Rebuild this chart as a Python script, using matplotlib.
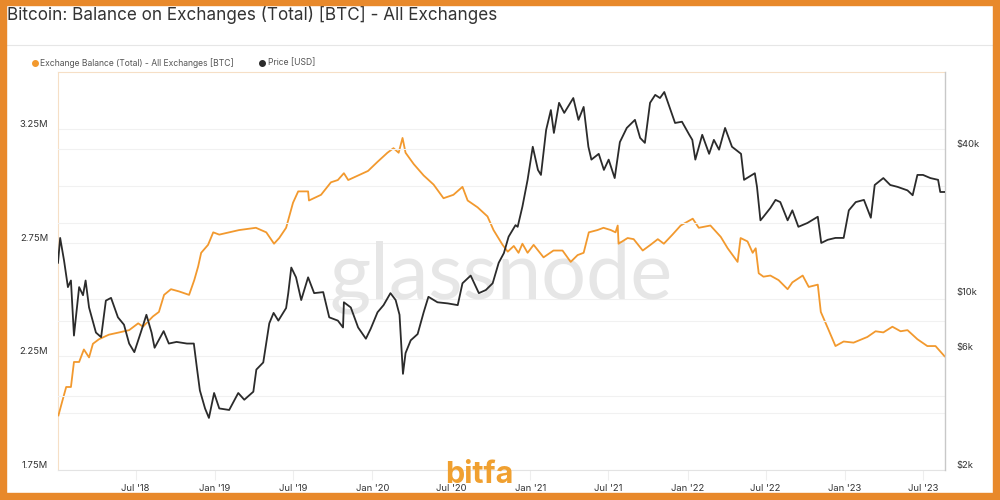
import pandas as pd
import matplotlib
matplotlib.use("Agg")
import matplotlib.pyplot as plt
from matplotlib.patches import Rectangle
from matplotlib.ticker import FixedLocator, NullLocator

plt.rcParams['font.family'] = ['Inter', 'DejaVu Sans']

TITLE = "Bitcoin: Balance on Exchanges (Total) [BTC] - All Exchanges"
BAL_LABEL = "Exchange Balance (Total) - All Exchanges [BTC]"
PRICE_LABEL = "Price [USD]"

# exchange balance, millions of BTC
bal_dates = [
    "2018-01-03", "2018-01-13", "2018-01-21", "2018-02-01", "2018-02-08", "2018-02-20",
    "2018-03-03", "2018-03-15", "2018-03-24", "2018-04-07", "2018-04-30", "2018-05-24",
    "2018-06-16", "2018-07-07", "2018-07-18", "2018-08-10", "2018-08-24", "2018-09-05",
    "2018-09-21", "2018-10-10", "2018-11-02", "2018-11-14", "2018-11-23", "2018-11-30",
    "2018-12-16", "2018-12-28", "2019-01-11", "2019-02-03", "2019-02-26", "2019-04-06",
    "2019-04-30", "2019-05-18", "2019-05-30", "2019-06-15", "2019-07-01", "2019-07-13",
    "2019-07-24", "2019-08-05", "2019-08-07", "2019-09-04", "2019-09-27", "2019-10-13",
    "2019-10-27", "2019-11-06", "2019-11-29", "2019-12-22", "2020-01-13", "2020-02-05",
    "2020-02-19", "2020-03-02", "2020-03-11", "2020-03-18", "2020-04-06", "2020-04-29",
    "2020-05-22", "2020-06-14", "2020-07-07", "2020-07-28", "2020-08-09", "2020-09-01",
    "2020-09-24", "2020-10-08", "2020-10-29", "2020-11-10", "2020-11-24", "2020-12-05",
    "2020-12-14", "2020-12-26", "2021-01-09", "2021-02-01", "2021-02-24", "2021-03-17",
    "2021-04-05", "2021-04-21", "2021-05-05", "2021-05-17", "2021-06-06", "2021-06-20",
    "2021-07-07", "2021-07-18", "2021-07-23", "2021-07-25", "2021-08-15", "2021-08-29",
    "2021-09-19", "2021-10-07", "2021-10-24", "2021-11-07", "2021-11-27", "2021-12-16",
    "2022-01-13", "2022-01-27", "2022-02-23", "2022-03-19", "2022-04-04", "2022-04-27",
    "2022-05-04", "2022-05-20", "2022-06-01", "2022-06-08", "2022-06-15", "2022-06-26",
    "2022-07-12", "2022-07-31", "2022-08-21", "2022-09-01", "2022-09-25", "2022-10-09",
    "2022-10-30", "2022-11-06", "2022-11-22", "2022-12-10", "2022-12-29", "2023-01-21",
    "2023-02-22", "2023-03-13", "2023-03-31", "2023-04-21", "2023-05-10", "2023-05-26",
    "2023-06-18", "2023-07-11", "2023-07-30", "2023-08-20",
]
bal_values = [
    1.99, 2.06, 2.115, 2.115, 2.225, 2.225,
    2.28, 2.245, 2.305, 2.325, 2.345, 2.355,
    2.365, 2.395, 2.38, 2.425, 2.445, 2.52,
    2.545, 2.535, 2.52, 2.585, 2.645, 2.705,
    2.74, 2.795, 2.785, 2.795, 2.805, 2.815,
    2.795, 2.745, 2.77, 2.815, 2.925, 2.975,
    2.975, 2.975, 2.935, 2.96, 3.015, 3.025,
    3.055, 3.025, 3.045, 3.065, 3.105, 3.145,
    3.165, 3.145, 3.21, 3.145, 3.095, 3.045,
    3.005, 2.945, 2.96, 2.995, 2.935, 2.905,
    2.865, 2.805, 2.74, 2.71, 2.735, 2.705,
    2.745, 2.705, 2.74, 2.685, 2.715, 2.715,
    2.665, 2.695, 2.705, 2.795, 2.805, 2.815,
    2.805, 2.795, 2.825, 2.745, 2.77, 2.765,
    2.715, 2.74, 2.765, 2.745, 2.785, 2.825,
    2.855, 2.815, 2.825, 2.775, 2.725, 2.665,
    2.77, 2.755, 2.705, 2.725, 2.615, 2.60,
    2.605, 2.585, 2.545, 2.575, 2.605, 2.555,
    2.565, 2.445, 2.375, 2.295, 2.315, 2.31,
    2.335, 2.36, 2.355, 2.38, 2.36, 2.365,
    2.325, 2.295, 2.295, 2.25,
]

# BTC price, thousands of USD
price_dates = [
    "2018-01-02", "2018-01-07", "2018-01-16", "2018-01-25", "2018-02-01", "2018-02-08",
    "2018-02-20", "2018-03-01", "2018-03-07", "2018-03-15", "2018-03-31", "2018-04-12",
    "2018-04-23", "2018-05-05", "2018-05-21", "2018-06-04", "2018-06-16", "2018-06-28",
    "2018-07-14", "2018-07-26", "2018-08-07", "2018-08-14", "2018-09-04", "2018-09-16",
    "2018-10-04", "2018-10-28", "2018-11-13", "2018-11-20", "2018-11-27", "2018-12-09",
    "2018-12-18", "2018-12-30", "2019-01-11", "2019-02-03", "2019-02-24", "2019-03-10",
    "2019-03-31", "2019-04-07", "2019-04-23", "2019-05-07", "2019-05-17", "2019-05-28",
    "2019-06-15", "2019-06-20", "2019-06-27", "2019-07-08", "2019-07-20", "2019-08-05",
    "2019-08-19", "2019-09-09", "2019-09-23", "2019-10-13", "2019-10-25", "2019-10-27",
    "2019-11-12", "2019-11-29", "2019-12-17", "2019-12-28", "2020-01-13", "2020-01-27",
    "2020-02-12", "2020-02-24", "2020-03-04", "2020-03-12", "2020-03-18", "2020-03-30",
    "2020-04-15", "2020-04-29", "2020-05-10", "2020-05-31", "2020-06-24", "2020-07-17",
    "2020-07-28", "2020-08-16", "2020-09-04", "2020-09-20", "2020-10-06", "2020-10-20",
    "2020-11-01", "2020-11-12", "2020-11-28", "2020-12-03", "2020-12-14", "2020-12-26",
    "2021-01-07", "2021-01-19", "2021-01-26", "2021-02-07", "2021-02-18", "2021-02-25",
    "2021-03-09", "2021-03-21", "2021-04-11", "2021-04-23", "2021-05-05", "2021-05-16",
    "2021-05-23", "2021-06-09", "2021-06-21", "2021-07-02", "2021-07-16", "2021-07-28",
    "2021-08-13", "2021-09-01", "2021-09-13", "2021-09-24", "2021-10-06", "2021-10-18",
    "2021-10-29", "2021-11-08", "2021-11-20", "2021-12-03", "2021-12-19", "2022-01-05",
    "2022-01-12", "2022-01-19", "2022-02-04", "2022-02-20", "2022-03-03", "2022-03-15",
    "2022-03-29", "2022-04-14", "2022-04-30", "2022-05-05", "2022-05-12", "2022-06-06",
    "2022-06-11", "2022-06-19", "2022-06-26", "2022-07-12", "2022-07-24", "2022-08-04",
    "2022-08-21", "2022-09-01", "2022-09-15", "2022-10-06", "2022-10-30", "2022-11-07",
    "2022-11-22", "2022-12-10", "2022-12-29", "2023-01-10", "2023-01-26", "2023-02-14",
    "2023-03-02", "2023-03-11", "2023-03-31", "2023-04-16", "2023-05-03", "2023-05-26",
    "2023-06-07", "2023-06-18", "2023-07-01", "2023-07-18", "2023-08-05", "2023-08-10",
    "2023-08-20",
]
price_values = [
    13.8, 17.4, 14.1, 11.0, 11.7, 7.0,
    11.0, 10.2, 11.7, 9.1, 7.2, 6.9,
    9.7, 9.95, 8.3, 7.75, 6.5, 6.0,
    7.3, 8.5, 7.2, 6.25, 7.3, 6.5,
    6.6, 6.5, 6.5, 5.2, 4.2, 3.55,
    3.25, 4.1, 3.55, 3.5, 4.1, 3.85,
    4.15, 5.1, 5.45, 7.85, 8.65, 8.05,
    9.05, 10.4, 13.2, 12.05, 9.75, 12.05,
    10.4, 10.5, 8.3, 8.05, 7.55, 9.55,
    9.1, 7.55, 6.8, 7.45, 8.7, 9.3,
    10.4, 9.75, 8.5, 4.9, 5.95, 6.7,
    7.1, 8.7, 10.05, 9.55, 9.45, 9.3,
    11.4, 12.25, 10.4, 10.7, 11.4, 13.8,
    15.1, 17.6, 19.6, 19.3, 23.3, 29.9,
    40.7, 32.8, 31.3, 47.6, 57.3, 46.3,
    61.3, 55.8, 64.1, 52.3, 59.0, 40.7,
    36.1, 38.1, 32.8, 36.1, 30.4, 42.5,
    48.5, 52.3, 44.2, 42.2, 61.3, 66.0,
    64.1, 67.8, 59.0, 50.8, 51.4, 45.5,
    43.4, 36.1, 45.5, 38.1, 43.4, 39.6,
    48.5, 40.7, 38.7, 38.1, 29.9, 31.8,
    28.0, 20.5, 21.2, 23.0, 24.8, 24.3,
    20.5, 22.5, 19.3, 20.0, 21.2, 16.6,
    17.1, 17.4, 17.4, 22.5, 24.3, 24.8,
    21.0, 28.5, 30.4, 28.5, 28.0, 27.1,
    25.9, 31.3, 31.3, 30.4, 29.9, 26.7,
    26.7,
]

left_ticks = [1.75, 2.25, 2.75, 3.25]
left_tick_labels = ["1.75M", "2.25M", "2.75M", "3.25M"]
right_ticks = [2, 6, 10, 40]
right_tick_labels = ["$2k", "$6k", "$10k", "$40k"]
x_ticks = ["2018-07-01", "2019-01-01", "2019-07-01", "2020-01-01", "2020-07-01", "2021-01-01",
           "2021-07-01", "2022-01-01", "2022-07-01", "2023-01-01", "2023-07-01"]
x_tick_labels = ["Jul '18", "Jan '19", "Jul '19", "Jan '20", "Jul '20", "Jan '21",
                 "Jul '21", "Jan '22", "Jul '22", "Jan '23", "Jul '23"]

ORANGE = "#F2992E"
DARK = "#2b2b2b"
BORDER = "#E8892B"
TEXT = "#333333"
GRID = "#f1f1f1"

W, H = 1000, 500
fig = plt.figure(figsize=(10, 5), dpi=100)
fig.patch.set_facecolor("white")
# orange frame round the whole picture
fig.add_artist(Rectangle((0, 0), 6 / W, 1, transform=fig.transFigure, color=BORDER, zorder=20))
fig.add_artist(Rectangle((993 / W, 0), 7 / W, 1, transform=fig.transFigure, color=BORDER, zorder=20))
fig.add_artist(Rectangle((0, 0), 1, 7 / H, transform=fig.transFigure, color=BORDER, zorder=20))
fig.add_artist(Rectangle((0, 495 / H), 1, 5 / H, transform=fig.transFigure, color=BORDER, zorder=20))

fig.text(7 / W, 1 - 15 / H, TITLE, fontsize=12.3, color=TEXT, va="center", ha="left")
fig.add_artist(plt.Line2D([7 / W, 993 / W], [1 - 45 / H, 1 - 45 / H], transform=fig.transFigure,
                          color="#e6e6e6", lw=0.8))

# legend
fig.add_artist(plt.Line2D([35 / W], [1 - 63 / H], transform=fig.transFigure, marker="o",
                          markersize=4, color=ORANGE, lw=0))
fig.text(40 / W, 1 - 63 / H, BAL_LABEL, fontsize=6.2, color="#555555", va="center")
fig.add_artist(plt.Line2D([262 / W], [1 - 63 / H], transform=fig.transFigure, marker="o",
                          markersize=4, color=DARK, lw=0))
fig.text(268 / W, 1 - 63 / H, PRICE_LABEL, fontsize=6.2, color="#555555", va="center")

left, right, top, bottom = 58, 945, 72, 470
ax = fig.add_axes([left / W, 1 - bottom / H, (right - left) / W, (bottom - top) / H])
ax.set_facecolor("none")

bd = pd.to_datetime(bal_dates)
pdts = pd.to_datetime(price_dates)
x0, x1 = pd.Timestamp("2018-01-02"), pd.Timestamp("2023-08-21")

ax.plot(bd, bal_values, color=ORANGE, lw=1.3, zorder=3)
ax.set_xlim(x0, x1)
ax.set_ylim(1.75, 3.5)
ax.set_yticks(left_ticks)
ax.set_yticklabels(left_tick_labels)
ax.yaxis.set_minor_locator(FixedLocator([2.0, 2.5, 3.0]))
ax.grid(True, axis="y", which="both", color=GRID, lw=0.8)
ax.set_axisbelow(True)

ax.set_xticks(pd.to_datetime(x_ticks))
ax.set_xticklabels(x_tick_labels)
ax.tick_params(axis="x", length=7, color="#eeeeee", labelsize=6.8, labelcolor=TEXT, pad=3)
ax.tick_params(axis="y", which="both", length=0, labelsize=6.8, labelcolor=TEXT, pad=7)
for lab in ax.get_yticklabels():
    lab.set_va("bottom")

for side in ["left", "top"]:
    ax.spines[side].set_color("#f6dfc6")
    ax.spines[side].set_linewidth(0.8)
ax.spines["bottom"].set_color("#e3e3e3")
ax.spines["right"].set_visible(False)

# watermarks
ax.text(0.5, 0.485, "glassnode", transform=ax.transAxes, fontsize=57, color="#e6e6e6",
        ha="center", va="center", family=["Lato", "DejaVu Sans"], zorder=1)
fig.text(479 / W, 1 - 475 / H, "bitfa", fontsize=22, fontweight="bold", color="#F0A030",
         ha="center", va="center", zorder=10)

ax2 = ax.twinx()
ax2.plot(pdts, price_values, color=DARK, lw=1.3, zorder=3)
ax2.set_yscale("log")
ax2.set_ylim(2, 81.7)
ax2.yaxis.set_major_locator(FixedLocator(right_ticks))
ax2.yaxis.set_minor_locator(NullLocator())
ax2.set_yticklabels(right_tick_labels)
for g in [4, 8, 20, 40]:
    ax2.axhline(g, color=GRID, lw=0.8, zorder=0)
ax2.tick_params(axis="y", length=0, labelsize=6.8, labelcolor=TEXT, pad=8)
for lab in ax2.get_yticklabels():
    lab.set_va("bottom")
for side in ["left", "top", "bottom"]:
    ax2.spines[side].set_visible(False)
ax2.spines["right"].set_color("#c8c8c8")
ax2.spines["right"].set_linewidth(1.0)
ax2.set_xlim(x0, x1)

fig.savefig("out.png", dpi=100, facecolor=fig.get_facecolor())
